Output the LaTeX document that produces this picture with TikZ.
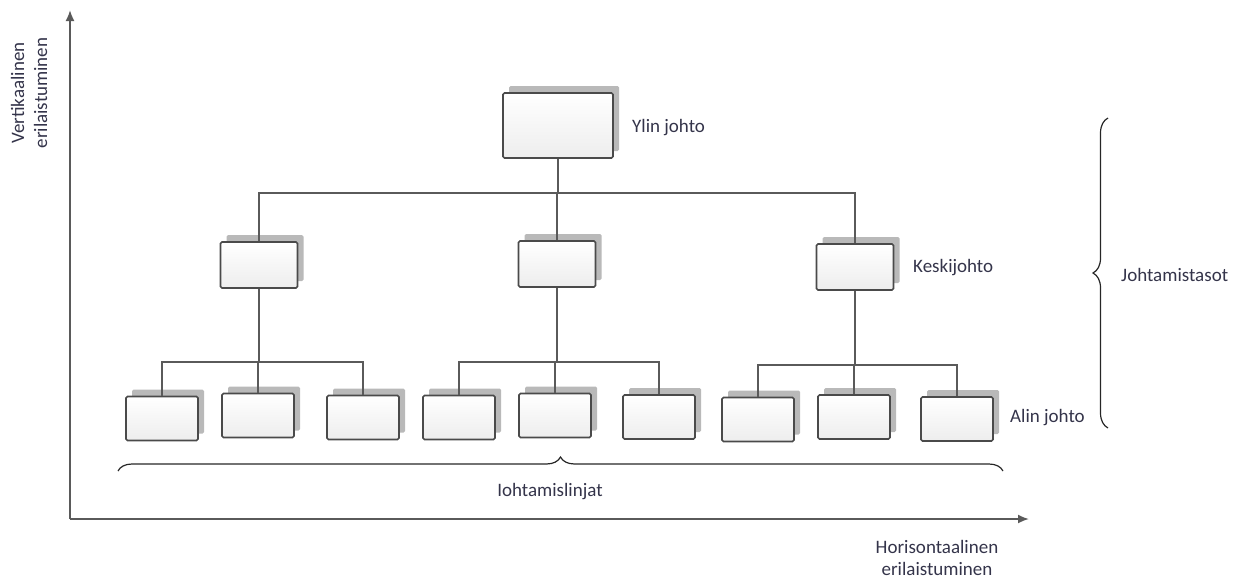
\documentclass[tikz,border=0pt]{standalone}
\usepackage{fontspec}
\setmainfont{Carlito}
\usetikzlibrary{shadows,decorations.pathreplacing,arrows.meta}
\definecolor{linegray}{HTML}{5A5A5A}
\definecolor{boxedge}{HTML}{4A4A4A}
\definecolor{txt}{HTML}{34344A}
\begin{document}
\begin{tikzpicture}[x=1pt,y=-1pt,
  orgbox/.style={rectangle, draw=boxedge, line width=1.6pt, rounded corners=1.5pt,
    top color=white, bottom color=gray!14, inner sep=0pt,
    general shadow={fill=gray!55, draw=none, shadow xshift=6pt, shadow yshift=7pt}},
  bigbox/.style={orgbox, minimum width=110pt, minimum height=65pt},
  midbox/.style={orgbox, minimum width=77pt, minimum height=46pt},
  lowbox/.style={orgbox, minimum width=72pt, minimum height=44pt},
  conn/.style={draw=linegray, line width=1.6pt},
  lbl/.style={text=txt, font=\fontsize{19}{23}\selectfont, inner sep=0pt},
  axis/.style={draw=linegray, line width=1.8pt, -{Latex[length=11pt,width=9pt]}},
  bracestyle/.style={draw=black!85, line width=1.2pt, decorate}
]
\useasboundingbox (0,0) rectangle (1236,581);

% axes
\coordinate (origin) at (70,519);
\coordinate (ytip) at (70,10);
\coordinate (xtip) at (1029,519);
\draw[axis] (origin) -- (ytip);
\draw[axis] (origin) -- (xtip);
\node[lbl, rotate=90, align=center] (vlabel) at (29,93) {Vertikaalinen\\erilaistuminen};
\node[lbl, align=center, font=\fontsize{19}{22}\selectfont] (hlabel) at (937,558) {Horisontaalinen\\erilaistuminen};

% boxes
\node[bigbox] (top) at (558,125.5) {};
\node[midbox] (m1) at (259,265) {};
\node[midbox] (m2) at (557,264) {};
\node[midbox] (m3) at (855,267) {};

\node[lowbox] (b1) at (162,418.5) {};
\node[lowbox] (b2) at (258,415.5) {};
\node[lowbox] (b3) at (363,417.5) {};
\node[lowbox] (b4) at (459,417.5) {};
\node[lowbox] (b5) at (555,415.5) {};
\node[lowbox] (b6) at (659,417) {};
\node[lowbox] (b7) at (758,419.5) {};
\node[lowbox] (b8) at (854,417) {};
\node[lowbox] (b9) at (957,419) {};

% junctions
\coordinate (j0) at (557,193);
\coordinate (j1) at (258,362);
\coordinate (j2) at (555,362);
\coordinate (j3) at (855,365);

% connectors
\draw[conn] (top.south) -- (top.south |- j0);
\draw[conn] (m1.north) -- (m1.north |- j0) -- (m3.north |- j0) -- (m3.north);
\draw[conn] (m2.north) -- (m2.north |- j0);

\draw[conn] (m1.south) -- (m1.south |- j1);
\draw[conn] (b1.north) -- (b1.north |- j1) -- (b3.north |- j1) -- (b3.north);
\draw[conn] (b2.north) -- (b2.north |- j1);

\draw[conn] (m2.south) -- (m2.south |- j2);
\draw[conn] (b4.north) -- (b4.north |- j2) -- (b6.north |- j2) -- (b6.north);
\draw[conn] (b5.north) -- (b5.north |- j2);

\draw[conn] (m3.south) -- (m3.south |- j3);
\draw[conn] (b7.north) -- (b7.north |- j3) -- (b9.north |- j3) -- (b9.north);
\draw[conn] (b8.north) -- (b8.north |- j3);

% level labels
\node[lbl, anchor=west] (ylin) at (632,128) {Ylin johto};
\node[lbl, anchor=west] (keski) at (913,268) {Keskijohto};
\node[lbl, anchor=west] (alin) at (1010,418) {Alin johto};

% braces
\coordinate (bl) at (118,471);
\coordinate (br) at (1003,471);
\draw[bracestyle, decoration={brace, amplitude=14pt}] (bl) -- (br);
\node[lbl] (linjat) at (550,492) {Iohtamislinjat};

\coordinate (rb) at (1108,428);
\coordinate (rt) at (1108,118);
\draw[bracestyle, decoration={brace, amplitude=15pt}] (rb) -- (rt);
\node[lbl, anchor=west] (tasot) at (1121,275) {Johtamistasot};
\end{tikzpicture}
\end{document}
